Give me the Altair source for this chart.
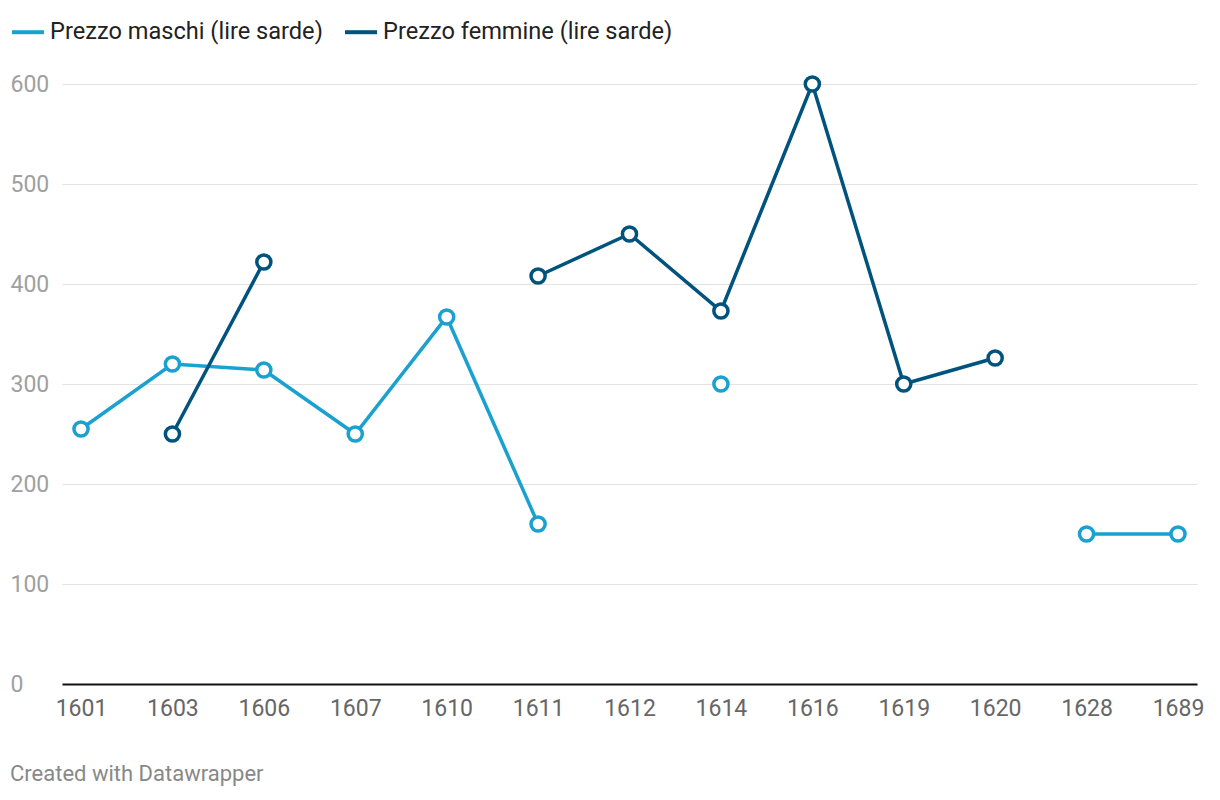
import altair as alt
import pandas as pd

years = ["1601", "1603", "1606", "1607", "1610", "1611", "1612", "1614", "1616", "1619", "1620", "1628", "1689"]
maschi = [255, 320, 314, 250, 367, 160, None, 300, None, None, None, 150, 150]
femmine = [None, 250, 422, None, None, 408, 450, 373, 600, 300, 326, None, None]

s_m = "Prezzo maschi (lire sarde)"
s_f = "Prezzo femmine (lire sarde)"

rows = []
for y, v in zip(years, maschi):
    rows.append({"year": y, "series": s_m, "value": v})
for y, v in zip(years, femmine):
    rows.append({"year": y, "series": s_f, "value": v})
df = pd.DataFrame(rows)

palette = ["#1aa1cf", "#00537d"]

color = alt.Color(
    "series:N",
    scale=alt.Scale(domain=[s_m, s_f], range=palette),
    legend=alt.Legend(
        title=None, orient="none", direction="horizontal",
        legendX=-52, legendY=-70, symbolType="stroke", symbolSize=1024,
        symbolStrokeWidth=4, labelFontSize=23.6, labelColor="#222222",
        labelFont="Roboto", labelOffset=4, columnPadding=14, padding=0,
        labelLimit=600,
    ),
)

x = alt.X(
    "year:O", sort=years, title=None,
    scale=alt.Scale(type="point", padding=0.208),
    axis=alt.Axis(labelAngle=0, ticks=False, domainColor="#111111", domainWidth=2,
                  labelColor="#666666", labelFontSize=23, labelFont="Roboto",
                  labelPadding=13, grid=False),
)
y = alt.Y(
    "value:Q", title=None,
    scale=alt.Scale(domain=[0, 600], nice=False),
    axis=alt.Axis(values=[0, 100, 200, 300, 400, 500, 600], ticks=False, domain=False,
                  gridColor="#e3e3e3", gridWidth=1, labelAlign="left", labelPadding=52,
                  labelColor="#a0a0a0", labelFontSize=23, labelFont="Roboto",
                  labelBaseline="middle"),
)

base = alt.Chart(df)
lines = base.mark_line(strokeWidth=3.5, invalid="break-paths-show-domains").encode(
    x=x, y=y, color=color, detail="series:N"
)
points = base.transform_filter("isValid(datum.value)").mark_point(
    filled=False, fill="white", fillOpacity=1, size=200, strokeWidth=3.5, opacity=1
).encode(
    x=x, y=y,
    color=alt.Color("series:N", scale=alt.Scale(domain=[s_m, s_f], range=palette), legend=None),
)

chart = alt.layer(lines, points).properties(
    width=1135, height=600,
    autosize=alt.AutoSizeParams(type="none"),
    padding={"left": 62, "top": 84, "right": 23, "bottom": 116},
    title=alt.TitleParams(
        "Created with Datawrapper", orient="bottom", anchor="start", frame="bounds",
        fontSize=22, font="Roboto", fontWeight="normal", color="#888888", offset=44,
    ),
).configure_view(stroke=None)

chart.save("out.html", embed_options={"renderer": "svg", "actions": False})
